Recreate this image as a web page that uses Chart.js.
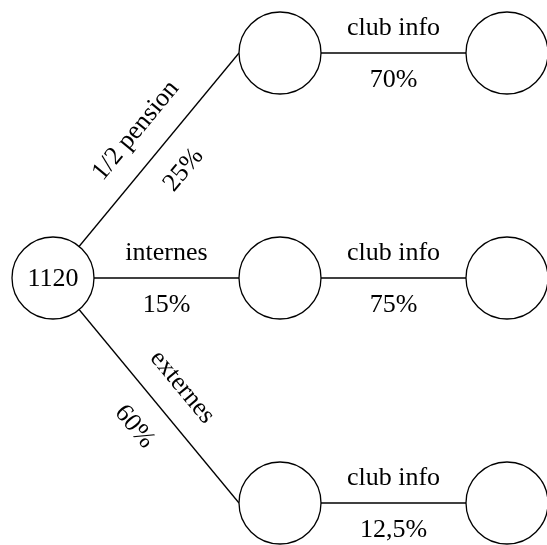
<!DOCTYPE html>
<html>
<head>
<meta charset="utf-8">
<script src="https://cdn.jsdelivr.net/npm/chart.js@4"></script>
<style>
  html, body { margin: 0; padding: 0; background: #fff; }
</style>
</head>
<body>
<canvas id="tree" width="547" height="545"></canvas>
<script>
// tree nodes, placed on a (level, row) grid
const nodeLevel = [0, 1, 1, 1, 2, 2, 2];
const nodeRow   = [1, 0, 1, 2, 0, 1, 2];
const nodeText  = ['1120', '', '', '', '', '', ''];
// branches parent -> child
const edgeFrom  = [0, 0, 0, 1, 2, 3];
const edgeTo    = [1, 2, 3, 4, 5, 6];
const edgeName  = ['1/2 pension', 'internes', 'externes', 'club info', 'club info', 'club info'];
const edgeProb  = ['25%', '15%', '60%', '70%', '75%', '12,5%'];

// grid -> pixel layout
const W = 547, H = 545;
const X0 = 53, XSTEP = 227;   // px of level 0, px per level
const Y0 = 53, YSTEP = 225;   // px of row 0, px per row
const R = 41;                 // node radius px
const FONT = '26px "Liberation Serif", "DejaVu Serif", serif';

const rLevel = R / XSTEP;

const edgeSets = edgeFrom.map((f, i) => {
  const t = edgeTo[i];
  return {
    type: 'scatter',
    showLine: true,
    order: 2,
    data: [
      { x: nodeLevel[f], y: nodeRow[f] },
      { x: nodeLevel[t] - rLevel, y: nodeRow[t] }   // end on child's west side
    ],
    borderColor: '#000',
    borderWidth: 1.3,
    pointRadius: 0,
    clip: false
  };
});

const nodeSet = {
  type: 'scatter',
  order: 1,
  data: nodeLevel.map((l, i) => ({ x: l, y: nodeRow[i] })),
  pointRadius: R,
  pointBackgroundColor: '#fff',
  pointBorderColor: '#000',
  pointBorderWidth: 1.3,
  clip: false
};

const treeLabels = {
  id: 'treeLabels',
  afterDatasetsDraw(chart) {
    const { ctx, scales: { x, y } } = chart;
    ctx.save();
    ctx.fillStyle = '#000';
    ctx.font = FONT;
    ctx.textAlign = 'center';
    ctx.textBaseline = 'middle';
    // node text
    nodeText.forEach((t, i) => {
      if (!t) return;
      ctx.fillText(t, x.getPixelForValue(nodeLevel[i]), y.getPixelForValue(nodeRow[i]) + 1);
    });
    // branch labels
    edgeFrom.forEach((f, i) => {
      const t = edgeTo[i];
      const px0 = x.getPixelForValue(nodeLevel[f]);
      const py0 = y.getPixelForValue(nodeRow[f]);
      const px1 = x.getPixelForValue(nodeLevel[t] - rLevel);
      const py1 = y.getPixelForValue(nodeRow[t]);
      const dx = px1 - px0, dy = py1 - py0;
      const len = Math.hypot(dx, dy);
      const sx = px0 + R * dx / len, sy = py0 + R * dy / len;
      const mx = (sx + px1) / 2, my = (sy + py1) / 2;
      const ang = Math.atan2(dy, dx);
      const off = Math.abs(dy) > 1 ? 30 : 25;
      ctx.save();
      ctx.translate(mx, my);
      ctx.rotate(ang);
      ctx.fillText(edgeName[i], 0, -off);
      ctx.fillText(edgeProb[i], 0, off + 2);
      ctx.restore();
    });
    ctx.restore();
  }
};

new Chart(document.getElementById('tree').getContext('2d'), {
  type: 'scatter',
  data: { datasets: [...edgeSets, nodeSet] },
  options: {
    responsive: false,
    animation: false,
    events: [],
    layout: { padding: 0, autoPadding: false },
    plugins: { legend: { display: false }, tooltip: { enabled: false } },
    scales: {
      x: { display: false, min: -X0 / XSTEP, max: (W - X0) / XSTEP },
      y: { display: false, reverse: true, min: -Y0 / YSTEP, max: (H - Y0) / YSTEP }
    }
  },
  plugins: [treeLabels]
});
</script>
</body>
</html>
